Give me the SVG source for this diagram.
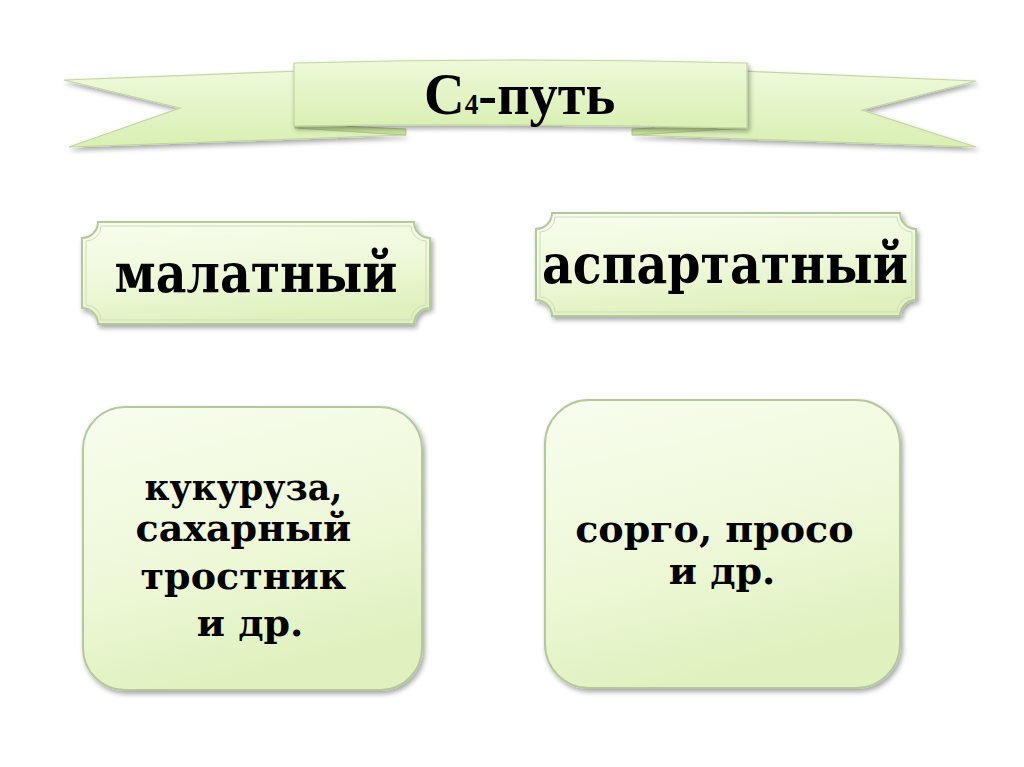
<svg xmlns="http://www.w3.org/2000/svg" width="1024" height="767" viewBox="0 0 1024 767">
<defs>
<linearGradient id="g" x1="0" y1="0" x2="0.3" y2="1">
<stop offset="0" stop-color="#f8fdee"/>
<stop offset="0.6" stop-color="#eef8d8"/>
<stop offset="1" stop-color="#e0f1bf"/>
</linearGradient>
<linearGradient id="gb" x1="0" y1="0" x2="0" y2="1">
<stop offset="0" stop-color="#eef9da"/>
<stop offset="1" stop-color="#d9efb3"/>
</linearGradient>
<filter id="sh" x="-10%" y="-10%" width="125%" height="130%">
<feDropShadow dx="2" dy="3" stdDeviation="2.5" flood-color="#000" flood-opacity="0.35"/>
</filter>
<style>
.box{fill:url(#g);stroke:#b5c79c;stroke-width:2;filter:url(#sh)}
.inner{fill:none;stroke:#cfdcb8;stroke-width:1}
.tail{fill:url(#gb);stroke:#c2d6a0;stroke-width:1.2;filter:url(#sh)}
.fold{fill:#c9e19c;stroke:#b3c98c;stroke-width:1}
.t{font-family:"DejaVu Serif",serif;font-weight:bold;fill:#000;text-anchor:middle}
.title{font-family:"Liberation Serif","Times New Roman",serif;font-weight:bold;fill:#000}
</style>
</defs>
<rect width="1024" height="767" fill="#fff"/>
<g id="banner">
<path class="tail" d="M64,80 L300,71 L300,128 L406,135 L69,147 L180,108 Z"/>
<path class="tail" d="M976,81 L740,71 L740,128 L632,135 L976,147 L862,110 Z"/>
<path class="fold" d="M295,124 L406,129 L406,135 L295,128 Z"/>
<path class="fold" d="M747,124 L632,129 L632,135 L747,128 Z"/>
<path class="tail" d="M294,63 Q520,57 747,63 L747,128 Q520,123 294,126 Z"/>
<text class="title" x="0" y="0" transform="translate(424,114) scale(0.94,1)" font-size="60">C<tspan font-size="29">4</tspan>-путь</text>
</g>
<g id="malate">
<path class="box" d="M98,222 L414,222 A16,16 0 0 0 430,238 L430,308 A16,16 0 0 0 414,324 L98,324 A16,16 0 0 0 82,308 L82,238 A16,16 0 0 0 98,222 Z"/>
<path class="inner" d="M101,226 L411,226 A15,15 0 0 0 426,241 L426,305 A15,15 0 0 0 411,320 L101,320 A15,15 0 0 0 86,305 L86,241 A15,15 0 0 0 101,226 Z"/>
<text class="t" x="256" y="292" font-size="54" textLength="283" lengthAdjust="spacingAndGlyphs">малатный</text>
</g>
<g id="aspartate">
<path class="box" d="M552,213 L900,213 A16,16 0 0 0 916,229 L916,300 A16,16 0 0 0 900,316 L552,316 A16,16 0 0 0 536,300 L536,229 A16,16 0 0 0 552,213 Z"/>
<path class="inner" d="M555,217 L897,217 A15,15 0 0 0 912,232 L912,297 A15,15 0 0 0 897,312 L555,312 A15,15 0 0 0 540,297 L540,232 A15,15 0 0 0 555,217 Z"/>
<text class="t" x="725" y="283" font-size="54" textLength="366" lengthAdjust="spacingAndGlyphs">аспартатный</text>
</g>
<g id="plants1">
<rect class="box" x="83" y="407" width="339" height="283" rx="42"/>
<text class="t" font-size="38">
<tspan x="250" y="500" textLength="198" lengthAdjust="spacingAndGlyphs">кукуруза,</tspan>
<tspan x="250" y="541">сахарный</tspan>
<tspan x="250" y="589">тростник</tspan>
<tspan x="250" y="636">и др.</tspan>
</text>
</g>
<g id="plants2">
<rect class="box" x="545" y="400" width="355" height="288" rx="44"/>
<text class="t" font-size="38">
<tspan x="721" y="542">сорго, просо</tspan>
<tspan x="722" y="584">и др.</tspan>
</text>
</g>
<g id="connectors"/>
</svg>
